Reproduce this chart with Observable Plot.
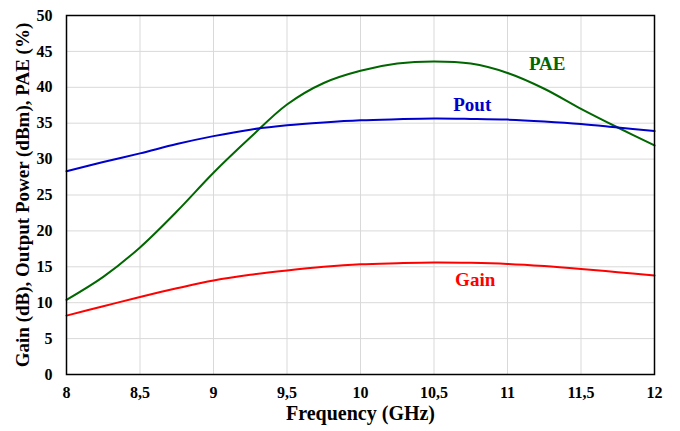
<!DOCTYPE html>
<html>
<head>
<meta charset="utf-8">
<script src="https://cdn.jsdelivr.net/npm/d3@7"></script>
<script src="https://cdn.jsdelivr.net/npm/@observablehq/plot@0.6"></script>
<style>
  html, body { margin: 0; padding: 0; background: #fff; }
  #chart svg { display: block; }
  #chart svg g[aria-label$="tick label"] text { font-size: 16px; font-weight: bold; }
</style>
</head>
<body>
<div id="chart"></div>
<script>
const freq = [8, 8.25, 8.5, 8.75, 9, 9.25, 9.5, 9.75, 10, 10.25, 10.5, 10.75, 11, 11.25, 11.5, 11.75, 12];
const pae  = [10.4, 13.6, 17.7, 22.7, 28.1, 33.0, 37.6, 40.6, 42.3, 43.3, 43.6, 43.3, 42.0, 39.8, 37.0, 34.4, 31.9];
const pout = [28.3, 29.6, 30.8, 32.1, 33.2, 34.1, 34.7, 35.1, 35.4, 35.55, 35.65, 35.6, 35.5, 35.25, 34.9, 34.4, 33.9];
const gain = [8.2, 9.5, 10.8, 12.0, 13.1, 13.9, 14.5, 15.0, 15.35, 15.5, 15.6, 15.55, 15.4, 15.1, 14.7, 14.25, 13.8];

const xTicks = [8, 8.5, 9, 9.5, 10, 10.5, 11, 11.5, 12];
const yTicks = [0, 5, 10, 15, 20, 25, 30, 35, 40, 45, 50];

const seriesNames = ["PAE", "Pout", "Gain"];
const seriesColors = ["#006600", "#0000cc", "#ff0000"];
const labelX = [11.27, 10.76, 10.78];
const labelY = [43.3, 37.5, 13.2];

const xTitle = "Frequency (GHz)";
const yTitle = "Gain (dB), Output Power (dBm), PAE (%)";

const seriesValues = [pae, pout, gain];
const rows = [];
seriesNames.forEach((name, s) => {
  freq.forEach((f, i) => rows.push({series: name, x: f, y: seriesValues[s][i]}));
});
const labels = seriesNames.map((name, s) => ({series: name, x: labelX[s], y: labelY[s]}));

const fmt = d => String(d).replace(".", ",");
const font = "'Liberation Serif', 'Times New Roman', serif";

const chart = Plot.plot({
  width: 680,
  height: 431,
  marginLeft: 66,
  marginRight: 26,
  marginTop: 15,
  marginBottom: 57,
  style: {fontFamily: font, fontSize: "16px", fontWeight: "bold", color: "#000", background: "#fff"},
  x: {domain: [8, 12]},
  y: {domain: [0, 50]},
  color: {domain: seriesNames, range: seriesColors},
  marks: [
    Plot.gridX(xTicks, {stroke: "#d9d9d9", strokeOpacity: 1, strokeWidth: 1}),
    Plot.gridY(yTicks, {stroke: "#d9d9d9", strokeOpacity: 1, strokeWidth: 1}),
    Plot.axisX(xTicks, {tickSize: 0, tickPadding: 12, tickFormat: fmt, label: null, fontSize: 16}),
    Plot.axisY(yTicks, {tickSize: 0, tickPadding: 14, label: null, fontSize: 16}),
    Plot.line(rows, {x: "x", y: "y", z: "series", stroke: "series", strokeWidth: 2, curve: "catmull-rom"}),
    Plot.text(labels, {x: "x", y: "y", text: "series", fill: "series", fontSize: 19, fontWeight: "bold"}),
    Plot.text([xTitle], {frameAnchor: "bottom", dy: 39, lineAnchor: "middle", textAnchor: "middle", fontSize: 20, fontWeight: "bold", fill: "#000"}),
    Plot.text([yTitle], {frameAnchor: "left", dx: -44, rotate: -90, textAnchor: "middle", lineAnchor: "middle", fontSize: 19, fontWeight: "bold", fill: "#000"}),
    Plot.frame({stroke: "#000", strokeWidth: 1.5})
  ]
});
document.getElementById("chart").appendChild(chart);
</script>
</body>
</html>
